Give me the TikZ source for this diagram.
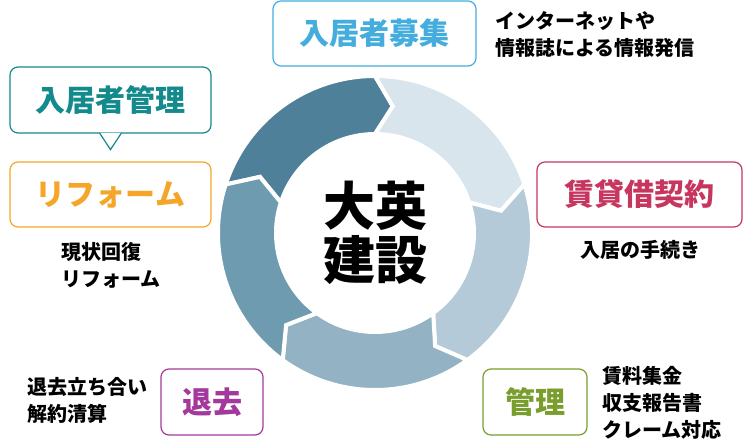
\documentclass[tikz,border=0pt]{standalone}
\usepackage{fontspec}
\setmainfont{Noto Sans CJK JP}
\usetikzlibrary{calc}
\definecolor{segA}{HTML}{4E8199}
\definecolor{segB}{HTML}{D9E5ED}
\definecolor{segC}{HTML}{B5CAD8}
\definecolor{segD}{HTML}{93B3C4}
\definecolor{segE}{HTML}{6E9BB0}
\definecolor{cBosyu}{HTML}{45ADDD}
\definecolor{cKanri}{HTML}{138A8C}
\definecolor{cReform}{HTML}{F5A628}
\definecolor{cKeiyaku}{HTML}{C7365F}
\definecolor{cTaikyo}{HTML}{A3399C}
\definecolor{cGyomu}{HTML}{7A9E2E}

\begin{document}
\begin{tikzpicture}[x=1pt,y=1pt,
    stagebox/.style={draw, line width=1.2pt, rounded corners=8pt, fill=white, minimum height=65pt, font=\fontsize{30}{36}\selectfont\bfseries},
    note/.style={align=left, inner sep=0pt, font=\fontsize{20}{27}\selectfont\bfseries}]
    \useasboundingbox (0,0) rectangle (749,447);

    % ring of five arrows
    \begin{scope}[shift={(375,214)}]
        \foreach \s/\c in {162/segA,90/segB,18/segC,-54/segD,-126/segE}{
            \pgfmathsetmacro\e{\s-72}
            \draw[white, line width=4pt, fill=\c] (\s:157) arc[start angle=\s, end angle=\e, radius=157] -- ({\e-8}:128) -- (\e:99) arc[start angle=\e, end angle=\s, radius=99] -- ({\s-8}:128) -- cycle;
        }
    \end{scope}
    \node[align=center, font=\fontsize{52}{54}\selectfont\bfseries] (corp) at (375,214) {大英\\建設};

    % stages
    \node[stagebox, draw=cBosyu, text=cBosyu, minimum width=203pt] (bosyu) at (374.5,413.5) {入居者募集};
    \node[note, anchor=west] (bosyuNote) at (495,413) {インターネットや\\情報誌による情報発信};

    \node[stagebox, draw=cKanri, text=cKanri, minimum width=201pt, minimum height=66pt] (kanri) at (110.5,347) {入居者管理};
    \draw[cKanri, line width=1.2pt, fill=white] ($(kanri.south)+(-11,0.7)$) -- ($(kanri.south)+(0,-16)$) -- ($(kanri.south)+(11,0.7)$);

    \node[stagebox, draw=cReform, text=cReform, minimum width=201pt] (reform) at (110.5,252.5) {リフォーム};
    \node[note, anchor=west] (reformNote) at (61,182) {現状回復\\リフォーム};

    \node[stagebox, draw=cKeiyaku, text=cKeiyaku, minimum width=205pt] (keiyaku) at (639.5,252.5) {賃貸借契約};
    \node[note] (keiyakuNote) at (640,197) {入居の手続き};

    \node[stagebox, draw=cTaikyo, text=cTaikyo, minimum width=102pt, minimum height=66pt] (taikyo) at (212,45) {退去};
    \node[note, anchor=west] (taikyoNote) at (27,47) {退去立ち合い\\解約清算};

    \node[stagebox, draw=cGyomu, text=cGyomu, minimum width=104pt, minimum height=66pt] (gyomu) at (535,45) {管理};
    \node[note, anchor=west] (gyomuNote) at (602,44.5) {賃料集金\\収支報告書\\クレーム対応};

\end{tikzpicture}
\end{document}
